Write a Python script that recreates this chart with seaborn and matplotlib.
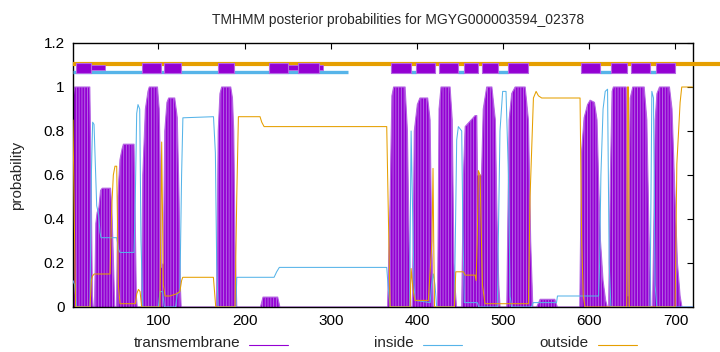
import numpy as np
import pandas as pd
import matplotlib
matplotlib.use("Agg")
import matplotlib.pyplot as plt
from matplotlib.lines import Line2D
import seaborn as sns

# ---------------- data ----------------
title = "TMHMM posterior probabilities for MGYG000003594_02378"
seq_len = 720

tm_x = [1, 3, 20.5, 22, 23.5, 24.5,
        26, 27.5, 29, 31, 33, 35, 44.5, 46, 48, 49.5,
        51.5, 53, 55.5, 58, 59.5, 71.8, 73, 74.5, 75.5,
        80.5, 82, 85, 88, 89.5, 99, 101, 102.5, 103.5, 105.8, 107.5, 110, 112, 119, 122, 124, 125.5, 126.5,
        167.5, 169.5, 171.5, 173.5, 184, 186, 187.5, 189, 191,
        218.5, 221.5, 238.5, 241,
        366, 369, 371, 373, 386.3, 389, 391, 393,
        394.8, 397, 400.5, 403.5, 412.5, 415.3, 417.2, 419,
        424, 425.7, 428, 438.5, 441, 443, 444.5, 446,
        452, 454, 456, 467.5, 469.5, 470.3, 475, 477, 481, 487, 491, 493, 495, 496.5,
        504.3, 507, 510, 514, 525.6, 529.4, 532, 534.5,
        539, 543, 560, 563,
        589, 591, 594, 598, 601, 606, 609, 611, 613, 616, 619, 621,
        622.5, 624.5, 626.5, 628, 642.8, 644, 645, 646.3, 647.5, 650.5, 663.7, 666.8, 669.5, 671.5,
        673.5, 675, 676.5, 678.5, 681.5, 693, 696, 699.5, 702.3, 705.4, 707.5, 720]
tm_y = [0.95, 1.0, 1.0, 0.6, 0.05, 0.0,
        0.0, 0.38, 0.43, 0.45, 0.53, 0.54, 0.54, 0.46, 0.2, 0.0,
        0.0, 0.5, 0.67, 0.72, 0.74, 0.74, 0.45, 0.05, 0.0,
        0.0, 0.6, 0.9, 0.98, 1.0, 1.0, 0.9, 0.6, 0.18, 0.2, 0.8, 0.93, 0.95, 0.95, 0.86, 0.5, 0.1, 0.0,
        0.0, 0.8, 0.97, 1.0, 1.0, 0.95, 0.8, 0.3, 0.0,
        0.0, 0.045, 0.045, 0.0,
        0.0, 0.5, 0.96, 1.0, 1.0, 0.8, 0.3, 0.0,
        0.0, 0.8, 0.92, 0.95, 0.95, 0.85, 0.3, 0.0,
        0.0, 0.9, 1.0, 1.0, 0.85, 0.2, 0.08, 0.0,
        0.0, 0.6, 0.82, 0.87, 0.87, 0.6, 0.6, 0.9, 1.0, 1.0, 0.85, 0.4, 0.1, 0.0,
        0.0, 0.85, 0.97, 1.0, 1.0, 0.85, 0.3, 0.0,
        0.0, 0.035, 0.035, 0.0,
        0.0, 0.7, 0.86, 0.92, 0.94, 0.93, 0.85, 0.55, 0.3, 0.12, 0.03, 0.0,
        0.0, 0.6, 0.98, 1.0, 1.0, 0.6, 0.05, 0.6, 0.95, 1.0, 1.0, 0.85, 0.3, 0.0,
        0.0, 0.4, 0.85, 0.97, 1.0, 1.0, 0.9, 0.5, 0.2, 0.05, 0.0, 0.0]

in_x = [1, 3, 5, 20.7, 22.3, 23.8, 25.4, 26.9, 28.5, 30.8, 32.3, 33.5, 51.7, 54, 55.6, 71.8, 73.3, 74.9, 76.4, 78.4, 79.9, 81.9,
        100, 102, 105, 107, 120, 122, 125, 127, 128.5, 164, 166.2, 167.7, 169.3,
        190, 191, 234.3, 237.3, 240.4, 365, 366.5, 368.9,
        391.5, 393.3, 395.2, 396.7, 397.9, 415.4, 417, 419.1, 421, 423,
        443.5, 446.2, 448.1, 452, 453.2, 455, 470, 472,
        493.3, 496.4, 499.5, 503.4, 506.2, 508.1, 510,
        533, 535, 562, 563.1, 610.8, 612, 613.5, 616, 618.5, 621.2, 623.1, 625.1,
        670.5, 672.6, 674.5, 676.4, 678.4, 720]
in_y = [0.12, 0.1, 0.0, 0.0, 0.6, 0.84, 0.83, 0.65, 0.46, 0.42, 0.34, 0.315, 0.315, 0.26, 0.248, 0.248, 0.5, 0.88, 0.92, 0.9, 0.3, 0.0,
        0.0, 0.07, 0.07, 0.0, 0.0, 0.06, 0.07, 0.6, 0.86, 0.865, 0.7, 0.2, 0.0,
        0.0, 0.135, 0.135, 0.16, 0.18, 0.18, 0.1, 0.0,
        0.0, 0.8, 0.4, 0.1, 0.03, 0.02, 0.1, 0.15, 0.1, 0.0,
        0.0, 0.76, 0.82, 0.8, 0.4, 0.02, 0.02, 0.0,
        0.0, 0.8, 0.98, 0.98, 0.6, 0.05, 0.0,
        0.0, 0.02, 0.02, 0.05, 0.05, 0.2, 0.6, 0.9, 0.98, 0.99, 0.2, 0.0,
        0.0, 0.98, 0.95, 0.1, 0.0, 0.0]

out_x = [1, 2.5, 4, 20.7, 22.3, 23.5, 25.5, 44, 45.9, 47.8, 49.7, 51.7, 53.6, 55.6, 73.3, 75, 76.9, 78.8, 80.7,
         101.9, 103.9, 105.8, 107.8, 113.6, 121, 125, 127, 128.3, 163.9, 166.6,
         189, 191, 192.9, 218, 220, 222.7, 365, 366.5, 368.9,
         392.1, 393.3, 395, 396.7, 397.9, 413.3, 417.5, 418.7, 419.5, 420.5,
         443.5, 445.1, 454, 455.9, 467.5, 468.7, 470, 471.3, 473.3, 476, 479.1,
         529.4, 531.3, 535.2, 538.3, 541, 544.8, 589.3, 591.2, 593, 595.1,
         643.5, 644.3, 645.5, 646.3, 699.6, 701.6, 705.4, 707.3, 720]
out_y = [0.85, 0.4, 0.0, 0.0, 0.12, 0.14, 0.15, 0.15, 0.45, 0.6, 0.64, 0.64, 0.1, 0.015, 0.015, 0.06, 0.08, 0.07, 0.0,
         0.0, 0.75, 0.1, 0.05, 0.05, 0.06, 0.07, 0.12, 0.135, 0.135, 0.0,
         0.0, 0.5, 0.865, 0.865, 0.84, 0.82, 0.82, 0.5, 0.0,
         0.0, 0.175, 0.1, 0.05, 0.03, 0.03, 0.3, 0.63, 0.3, 0.0,
         0.0, 0.16, 0.16, 0.145, 0.145, 0.12, 0.3, 0.62, 0.6, 0.1, 0.015,
         0.015, 0.5, 0.95, 0.98, 0.96, 0.95, 0.95, 0.3, 0.05, 0.0,
         0.0, 1.0, 1.0, 0.0, 0.0, 0.65, 0.93, 1.0, 1.0]

# predicted topology shown above the curves
helix_start = [4.5, 80.8, 106.6, 169.6, 228.5, 262, 370, 399, 425.4, 454.4, 475.3, 506.2, 590.2, 625, 648.2, 677.2]
helix_end = [21.9, 102.8, 126, 188.2, 250.5, 286.9, 392.9, 421.4, 447.4, 471.4, 494.6, 528.7, 612.6, 643.5, 670.6, 699.6]
thin_start = [21.9, 250.5, 286.9]
thin_end = [38.2, 262, 291.1]
inside_start = [1, 392.9, 447.4, 494.6, 612.6, 670.6]
inside_end = [320.2, 399, 454.4, 506.2, 625, 677.2]
outside_start = [1]
outside_end = [752]

legend_labels = ["transmembrane", "inside", "outside"]
x_ticks = [100, 200, 300, 400, 500, 600, 700]
y_ticks = [0, 0.2, 0.4, 0.6, 0.8, 1.0, 1.2]
y_tick_labels = ["0", "0.2", "0.4", "0.6", "0.8", "1", "1.2"]

# ---------------- styling ----------------
sns.set_theme(style="white")
plt.rcParams["font.family"] = ["Liberation Sans", "DejaVu Sans"]
plt.rcParams["hatch.linewidth"] = 0.7

C_TM = "#9400D3"
C_TM_LIGHT = "#B565E3"
C_IN = "#56B4E9"
C_OUT = "#E69F00"

fig = plt.figure(figsize=(7.2, 3.52), dpi=100)
ax = fig.add_axes([73 / 720, 45 / 352, (692.7 - 73) / 720, (307 - 43) / 352])

df_tm = pd.DataFrame({"pos": tm_x, "p": tm_y})
df_in = pd.DataFrame({"pos": in_x, "p": in_y})
df_out = pd.DataFrame({"pos": out_x, "p": out_y})

# transmembrane impulses
ax.fill_between(df_tm["pos"], 0, df_tm["p"], facecolor=C_TM, edgecolor=C_TM_LIGHT,
                hatch="||||||", linewidth=0, zorder=2)
sns.lineplot(data=df_tm, x="pos", y="p", color=C_TM_LIGHT, lw=0.8, ax=ax,
             estimator=None, sort=False, zorder=2.5)

sns.lineplot(data=df_in, x="pos", y="p", color=C_IN, lw=0.75, ax=ax,
             estimator=None, sort=False, zorder=3)
sns.lineplot(data=df_out, x="pos", y="p", color=C_OUT, lw=0.75, ax=ax,
             estimator=None, sort=False, zorder=4)

# topology bars
ax.hlines([1.105] * len(outside_start), outside_start, outside_end, color=C_OUT, lw=3.0,
          zorder=5, clip_on=False)
ax.hlines([1.067] * len(inside_start), inside_start, inside_end, color=C_IN, lw=2.4, zorder=5)
ax.broken_barh([(s, e - s) for s, e in zip(thin_start, thin_end)], (1.077, 0.022),
               facecolor=C_TM, edgecolor=C_TM_LIGHT, lw=0.6, zorder=6)
ax.broken_barh([(s, e - s) for s, e in zip(helix_start, helix_end)], (1.062, 0.046),
               facecolor=C_TM, edgecolor=C_TM_LIGHT, lw=0.8, zorder=7)

ax.set_xlim(1, seq_len)
ax.set_ylim(0, 1.2)
ax.set_xticks(x_ticks)
ax.set_xticklabels([str(t) for t in x_ticks])
ax.set_yticks(y_ticks)
ax.set_yticklabels(y_tick_labels)
ax.tick_params(direction="in", length=4, width=0.8, top=True, right=True,
               labelsize=11, colors="black", pad=6)
ax.tick_params(axis="x", pad=5)
for sp in ax.spines.values():
    sp.set_color("black")
    sp.set_linewidth(1.0)
ax.set_xlabel("")
ax.set_ylabel("probability", fontsize=11, labelpad=14)

fig.text(398 / 720, 1 - 20 / 352, title, ha="center", va="center", fontsize=10)

# legend along the bottom: label then line sample
leg_text_right = [240, 414, 589]
leg_colors = [C_TM, C_IN, C_OUT]
for lab, xr, col in zip(legend_labels, leg_text_right, leg_colors):
    fig.text(xr / 720, 1 - 343 / 352, lab, ha="right", va="center", fontsize=11)
    fig.add_artist(Line2D([(xr + 9) / 720, (xr + 48) / 720], [1 - 345 / 352] * 2,
                          color=col, lw=0.8, transform=fig.transFigure))

fig.savefig("out.png", dpi=100)
